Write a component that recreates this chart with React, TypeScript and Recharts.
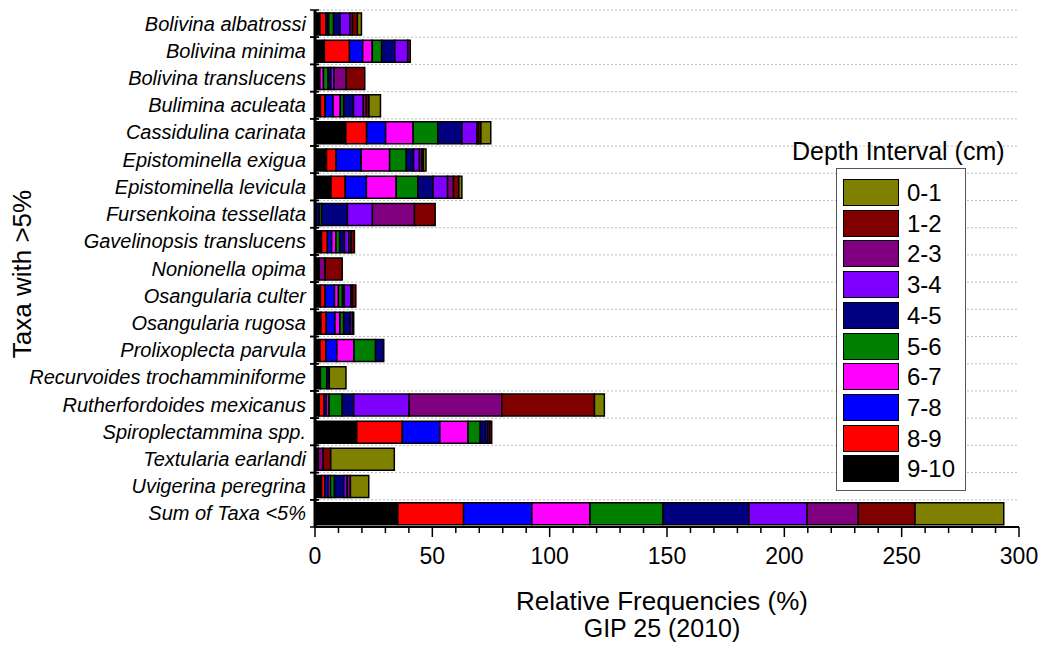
import { Bar, BarChart, CartesianGrid, XAxis, YAxis } from "recharts";

// Foraminifera taxa, GIP 25 (2010). Values are relative frequencies (%)
// per depth interval.
const categories = [
  "Bolivina albatrossi",
  "Bolivina minima",
  "Bolivina translucens",
  "Bulimina aculeata",
  "Cassidulina carinata",
  "Epistominella exigua",
  "Epistominella levicula",
  "Fursenkoina tessellata",
  "Gavelinopsis translucens",
  "Nonionella opima",
  "Osangularia culter",
  "Osangularia rugosa",
  "Prolixoplecta parvula",
  "Recurvoides trochamminiforme",
  "Rutherfordoides mexicanus",
  "Spiroplectammina spp.",
  "Textularia earlandi",
  "Uvigerina peregrina",
  "Sum of Taxa <5%",
];

const d9_10 = [2.1, 4.0, 2.1, 2.3, 13.1, 4.9, 6.8, 0.7, 2.8, 1.8, 2.3, 2.5, 2.1, 2.3, 1.8, 17.8, 1.4, 2.8, 35.3];
const d8_9 = [2.5, 10.7, 0, 2.0, 8.9, 4.1, 6.1, 0, 2.5, 0, 2.0, 2.3, 2.5, 0, 2.1, 19.4, 0, 1.4, 28.0];
const d7_8 = [0.8, 5.6, 0, 3.4, 8.1, 10.7, 9.0, 1.1, 1.8, 0, 4.0, 3.7, 4.7, 0, 1.0, 16.0, 0, 1.4, 29.1];
const d6_7 = [0.5, 4.1, 1.5, 3.1, 11.7, 12.1, 12.7, 0, 1.8, 0, 1.7, 2.1, 7.3, 0, 1.1, 12.0, 0, 1.0, 24.8];
const d5_6 = [2.0, 4.0, 2.0, 1.4, 10.5, 7.1, 9.2, 1.0, 1.6, 0, 1.7, 1.6, 9.2, 2.7, 5.6, 5.2, 0, 1.7, 31.1];
const d4_5 = [2.8, 5.6, 1.1, 4.2, 10.3, 3.1, 6.5, 11.0, 2.1, 0, 0.8, 2.8, 3.5, 1.1, 4.9, 2.4, 0, 4.0, 36.6];
const d3_4 = [4.2, 5.5, 1.4, 4.2, 6.4, 2.5, 6.2, 10.7, 1.8, 0, 2.8, 1.0, 0, 0, 23.6, 0.8, 0, 1.4, 24.8];
const d2_3 = [1.1, 1.1, 5.2, 1.3, 0.7, 1.0, 2.5, 17.9, 1.0, 2.5, 0.7, 0, 0, 0, 39.5, 0.8, 2.1, 1.4, 21.8];
const d1_2 = [2.1, 0, 7.9, 1.1, 1.0, 0.7, 2.3, 8.8, 1.4, 7.3, 1.4, 0.5, 0, 0, 39.5, 0.9, 3.2, 0, 24.2];
const d0_1 = [1.7, 0, 0, 4.9, 4.2, 1.1, 1.3, 0, 0, 0, 0, 0, 0, 7.1, 4.2, 0, 27.1, 7.8, 37.8];

const xTicks = [0, 10, 20, 30, 40, 50, 60, 70, 80, 90, 100, 110, 120, 130, 140, 150, 160, 170, 180, 190, 200, 210, 220, 230, 240, 250, 260, 270, 280, 290, 300];

// stacking order: deepest first (left), surface last (right)
const series = [
  { key: "d9_10", label: "9-10", color: "#000000", values: d9_10 },
  { key: "d8_9", label: "8-9", color: "#ff0000", values: d8_9 },
  { key: "d7_8", label: "7-8", color: "#0000ff", values: d7_8 },
  { key: "d6_7", label: "6-7", color: "#ff00ff", values: d6_7 },
  { key: "d5_6", label: "5-6", color: "#008000", values: d5_6 },
  { key: "d4_5", label: "4-5", color: "#000080", values: d4_5 },
  { key: "d3_4", label: "3-4", color: "#8000ff", values: d3_4 },
  { key: "d2_3", label: "2-3", color: "#800080", values: d2_3 },
  { key: "d1_2", label: "1-2", color: "#800000", values: d1_2 },
  { key: "d0_1", label: "0-1", color: "#808000", values: d0_1 },
];

const data = categories.map((name, i) => {
  const row: Record<string, string | number> = { name };
  series.forEach((s) => {
    row[s.key] = s.values[i];
  });
  return row;
});

const WIDTH = 1044;
const HEIGHT = 645;
const MARGIN = { top: 10, right: 25, bottom: 88, left: 0 };
const X_AXIS_H = 30;
const Y_AXIS_W = 315;
const FONT = "'Liberation Sans', Arial, sans-serif";

const bandH =
  (HEIGHT - MARGIN.top - MARGIN.bottom - X_AXIS_H) / categories.length;

const YTick = (props: any) => {
  const { x, y, payload } = props;
  const ax = x + 9; // tickSize 5 + tickMargin 4
  return (
    <g>
      <line x1={ax - 5} x2={ax + 4} y1={y - bandH / 2} y2={y - bandH / 2} stroke="#000" strokeWidth={1.5} />
      <line x1={ax - 5} x2={ax + 4} y1={y + bandH / 2} y2={y + bandH / 2} stroke="#000" strokeWidth={1.5} />
      <text
        x={x}
        y={y}
        dy={7}
        textAnchor="end"
        fontSize={20}
        fontStyle="italic"
        fontFamily={FONT}
        fill="#000"
      >
        {payload.value}
      </text>
    </g>
  );
};

const XTick = (props: any) => {
  const { x, y, payload } = props;
  const major = payload.value % 50 === 0;
  return (
    <g>
      <line x1={x} x2={x} y1={y} y2={y + (major ? 10 : 6)} stroke="#000" strokeWidth={1.5} />
      {major && (
        <text x={x} y={y + 37} textAnchor="middle" fontSize={23} fontFamily={FONT} fill="#000">
          {payload.value}
        </text>
      )}
    </g>
  );
};

const gridRows = ({ offset }: any) => {
  const pts: number[] = [];
  for (let i = 0; i < categories.length; i++) {
    pts.push(offset.top + (i * offset.height) / categories.length);
  }
  return pts;
};

const legendItems = [...series].reverse();

export default function App() {
  return (
    <div style={{ position: "absolute", left: 0, top: 0, width: WIDTH, height: HEIGHT, background: "#fff" }}>
      <BarChart
        width={WIDTH}
        height={HEIGHT}
        data={data}
        layout="vertical"
        margin={MARGIN}
        barSize={22}
      >
        <CartesianGrid
          vertical={false}
          stroke="#bdbdbd"
          strokeDasharray="2 2"
          horizontalCoordinatesGenerator={gridRows}
        />
        <XAxis
          type="number"
          domain={[0, 300]}
          ticks={xTicks}
          interval={0}
          height={X_AXIS_H}
          tickSize={0}
          tickMargin={0}
          tickLine={false}
          tick={<XTick />}
          axisLine={{ stroke: "#000", strokeWidth: 2 }}
        />
        <YAxis
          type="category"
          dataKey="name"
          width={Y_AXIS_W}
          interval={0}
          tickSize={5}
          tickMargin={4}
          tickLine={false}
          tick={<YTick />}
          axisLine={{ stroke: "#000", strokeWidth: 3 }}
        />
        {series.map((s) => (
          <Bar
            key={s.key}
            dataKey={s.key}
            name={s.label}
            stackId="depth"
            fill={s.color}
            stroke="#000"
            strokeWidth={1.5}
            isAnimationActive={false}
          />
        ))}
        <text
          x={22}
          y={274}
          transform="rotate(-90 22 274)"
          textAnchor="middle"
          dominantBaseline="central"
          fontSize={26}
          fontFamily={FONT}
          fill="#000"
        >
          Taxa with &gt;5%
        </text>
        <text x={662} y={610} textAnchor="middle" fontSize={26} fontFamily={FONT} fill="#000">
          Relative Frequencies (%)
        </text>
        <text x={662} y={637} textAnchor="middle" fontSize={25} fontFamily={FONT} fill="#000">
          GIP 25 (2010)
        </text>
      </BarChart>

      {/* legend drawn as an overlay so it doesn't shrink the plot */}
      <div
        style={{
          position: "absolute",
          left: 792,
          top: 137,
          fontFamily: FONT,
          fontSize: 25,
          color: "#000",
          whiteSpace: "nowrap",
        }}
      >
        Depth Interval (cm)
      </div>
      <div
        style={{
          position: "absolute",
          left: 836,
          top: 168,
          width: 130,
          height: 323,
          boxSizing: "border-box",
          border: "1px solid #555",
          background: "#fff",
          fontFamily: FONT,
        }}
      >
        {legendItems.map((s, i) => (
          <div
            key={s.key}
            style={{
              position: "absolute",
              left: 6,
              top: 10 + i * 30.7,
              height: 27,
              display: "flex",
              alignItems: "center",
            }}
          >
            <div
              style={{
                width: 56,
                height: 27,
                boxSizing: "border-box",
                border: "1.5px solid #000",
                background: s.color,
              }}
            />
            <span style={{ marginLeft: 8, fontSize: 24, lineHeight: "27px" }}>{s.label}</span>
          </div>
        ))}
      </div>
    </div>
  );
}
